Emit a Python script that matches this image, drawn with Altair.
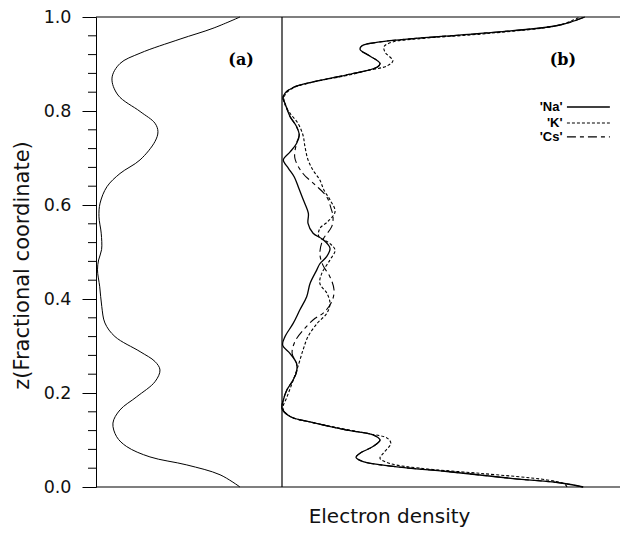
import altair as alt
import pandas as pd

# ---------------- data ----------------
Z_MAJOR = [0.0, 0.2, 0.4, 0.6, 0.8, 1.0]
Z_MINOR = [0.04, 0.08, 0.12, 0.16, 0.24, 0.28, 0.32, 0.36, 0.44, 0.48,
           0.52, 0.56, 0.64, 0.68, 0.72, 0.76, 0.84, 0.88, 0.92, 0.96]

# panel (a): framework electron density
a_z = [1.0, 0.976, 0.953, 0.923, 0.901, 0.870, 0.834, 0.799, 0.774, 0.756,
       0.735, 0.696, 0.667, 0.639, 0.604, 0.575, 0.540, 0.505, 0.483, 0.462,
       0.426, 0.384, 0.349, 0.320, 0.288, 0.267, 0.249, 0.224, 0.192, 0.164,
       0.136, 0.107, 0.086, 0.064, 0.047, 0.026, 0.0]
a_rho = [0.774, 0.629, 0.452, 0.237, 0.129, 0.086, 0.118, 0.237, 0.317, 0.333,
         0.317, 0.237, 0.129, 0.059, 0.022, 0.016, 0.028, 0.030, 0.014, 0.008,
         0.020, 0.031, 0.048, 0.102, 0.237, 0.317, 0.344, 0.317, 0.219, 0.129,
         0.091, 0.111, 0.165, 0.290, 0.488, 0.667, 0.774]

# panel (b): 'Na'
na_z = [1.0, 0.983, 0.965, 0.954, 0.947, 0.939, 0.931, 0.917, 0.901, 0.893,
        0.877, 0.862, 0.850, 0.838, 0.827, 0.816, 0.788, 0.767, 0.749, 0.731,
        0.713, 0.696, 0.678, 0.660, 0.639, 0.611, 0.582, 0.561, 0.540, 0.526,
        0.508, 0.490, 0.475, 0.462, 0.433, 0.405, 0.377, 0.348, 0.320, 0.302,
        0.284, 0.263, 0.245, 0.228, 0.206, 0.185, 0.167, 0.150, 0.137, 0.121,
        0.111, 0.100, 0.086, 0.072, 0.063, 0.054, 0.043, 0.033, 0.018, 0.008, 0.0]
na_rho = [0.896, 0.822, 0.586, 0.388, 0.290, 0.237, 0.231, 0.260, 0.290, 0.281,
          0.192, 0.092, 0.033, 0.009, 0.003, 0.009, 0.024, 0.043, 0.051, 0.043,
          0.024, 0.004, 0.019, 0.036, 0.048, 0.063, 0.078, 0.077, 0.092, 0.122,
          0.142, 0.132, 0.112, 0.103, 0.083, 0.073, 0.053, 0.033, 0.009, 0.002,
          0.024, 0.043, 0.043, 0.033, 0.014, 0.004, 0.000, 0.024, 0.092, 0.192,
          0.269, 0.290, 0.269, 0.231, 0.219, 0.240, 0.340, 0.488, 0.683, 0.831, 0.891]

# panel (b): 'K'
k_z = [1.0, 0.983, 0.965, 0.954, 0.947, 0.937, 0.925, 0.907, 0.896, 0.886,
       0.877, 0.862, 0.850, 0.838, 0.827, 0.813, 0.795, 0.774, 0.749, 0.724,
       0.696, 0.674, 0.653, 0.632, 0.611, 0.586, 0.565, 0.550, 0.533, 0.518,
       0.504, 0.483, 0.455, 0.433, 0.412, 0.391, 0.370, 0.348, 0.320, 0.291,
       0.256, 0.221, 0.192, 0.167, 0.150, 0.137, 0.121, 0.113, 0.104, 0.093,
       0.072, 0.061, 0.050, 0.040, 0.029, 0.015, 0.006, 0.0]
k_rho = [0.882, 0.822, 0.609, 0.408, 0.328, 0.302, 0.305, 0.328, 0.311, 0.251,
         0.201, 0.095, 0.036, 0.012, 0.006, 0.009, 0.024, 0.047, 0.062, 0.068,
         0.077, 0.092, 0.112, 0.124, 0.142, 0.157, 0.136, 0.112, 0.109, 0.142,
         0.157, 0.142, 0.118, 0.112, 0.133, 0.142, 0.133, 0.104, 0.077, 0.062,
         0.047, 0.030, 0.015, 0.003, 0.024, 0.092, 0.201, 0.260, 0.311, 0.322,
         0.300, 0.290, 0.320, 0.408, 0.586, 0.784, 0.837, 0.843]

# panel (b): 'Cs'
cs_z = [1.0, 0.983, 0.965, 0.954, 0.947, 0.939, 0.931, 0.917, 0.901, 0.893,
        0.877, 0.862, 0.850, 0.838, 0.827, 0.816, 0.788, 0.767, 0.749, 0.731,
        0.700, 0.667, 0.643, 0.618, 0.593, 0.575, 0.554, 0.526, 0.497, 0.472,
        0.447, 0.419, 0.394, 0.370, 0.359, 0.338, 0.309, 0.284, 0.263, 0.245,
        0.228, 0.206, 0.185, 0.167, 0.150, 0.137, 0.121, 0.111, 0.100, 0.086,
        0.072, 0.063, 0.054, 0.043, 0.033, 0.018, 0.008, 0.0]
cs_rho = [0.896, 0.822, 0.586, 0.388, 0.290, 0.237, 0.231, 0.260, 0.290, 0.281,
          0.192, 0.092, 0.033, 0.009, 0.003, 0.009, 0.024, 0.043, 0.051, 0.043,
          0.038, 0.062, 0.098, 0.132, 0.145, 0.151, 0.147, 0.121, 0.112, 0.121,
          0.142, 0.154, 0.147, 0.122, 0.098, 0.068, 0.038, 0.030, 0.043, 0.043,
          0.033, 0.014, 0.004, 0.000, 0.024, 0.092, 0.192, 0.269, 0.290, 0.269,
          0.231, 0.219, 0.240, 0.340, 0.488, 0.683, 0.831, 0.891]

SERIES = ["'Na'", "'K'", "'Cs'"]
LEGEND_Z = [0.8085, 0.7745, 0.745]
PANEL_LABELS = ["(a)", "(b)"]

# ---------------- styling ----------------
FONT = "DejaVu Sans"
INK = "#111111"
W_A, W_TOTAL, H = 186, 524, 470

yscale = alt.Scale(domain=[0, 1], nice=False, zero=False)
yaxis = alt.Axis(values=Z_MAJOR, format=".1f", tickSize=14, tickColor="black",
                 tickWidth=1, domainColor="black", domainWidth=1, grid=False,
                 labelFont=FONT, labelFontSize=17.5, labelColor=INK, labelPadding=11,
                 titleFont=FONT, titleFontSize=21, titleFontWeight="normal",
                 titleColor=INK, titleX=-74, titleY=248, titleAngle=270,
                 titleBaseline="middle", titleAlign="center")
YT = "z(Fractional coordinate)"


def Y():
    return alt.Y("z:Q", scale=yscale, axis=yaxis, title=YT)


xa = alt.X("v:Q", scale=alt.Scale(domain=[0, 1], range=[0, W_A], nice=False, zero=False),
           axis=None)
xb_axis = alt.Axis(title="Electron density", labels=False, ticks=False, domain=False,
                   grid=False, titleFont=FONT, titleFontSize=20, titleFontWeight="normal",
                   titleColor=INK, titleX=293, titleY=35, titleAlign="center",
                   titleBaseline="alphabetic")
xb = alt.X("v:Q", scale=alt.Scale(domain=[0, 1], range=[W_A, W_TOTAL], nice=False, zero=False),
           axis=xb_axis)

# ---------------- panel (a) ----------------
df_a = pd.DataFrame({"z": a_z, "v": a_rho})
a_line = alt.Chart(df_a).mark_line(color="black", strokeWidth=1.0,
                                   interpolate="catmull-rom").encode(
    x=xa, y=Y(), order=alt.Order("z:Q"))

frame = alt.Chart(pd.DataFrame({"z": [0.0, 1.0]})).mark_rule(
    color="black", strokeWidth=1.2).encode(y=Y())

minor = alt.Chart(pd.DataFrame({"z": Z_MINOR})).mark_rule(
    color="black", strokeWidth=1).encode(y=Y(), x=alt.value(-8), x2=alt.value(0))

a_lab = alt.Chart(pd.DataFrame({"z": [0.9085], "v": [0.78], "t": [PANEL_LABELS[0]]})).mark_text(
    font="DejaVu Serif", fontWeight="bold", fontSize=16, color="black",
    align="center", baseline="middle").encode(x=xa, y=Y(), text="t:N")

left = alt.layer(frame, minor, a_line, a_lab)

# ---------------- panel (b) ----------------
styles = {
    "'Na'": dict(strokeWidth=1.3),
    "'K'": dict(strokeWidth=1.1, strokeDash=[3, 2]),
    "'Cs'": dict(strokeWidth=1.1, strokeDash=[9, 4, 4, 4]),
}
datasets = {
    "'Na'": (na_z, na_rho),
    "'K'": (k_z, k_rho),
    "'Cs'": (cs_z, cs_rho),
}

b_layers = []
divider = alt.Chart(pd.DataFrame({"v": [0.0]})).mark_rule(
    color="black", strokeWidth=1.2).encode(x=xb)
b_layers.append(divider)

for name in ["'K'", "'Cs'", "'Na'"]:
    zs, rs = datasets[name]
    df = pd.DataFrame({"z": zs, "v": rs})
    b_layers.append(alt.Chart(df).mark_line(color="black", interpolate="catmull-rom",
                                            **styles[name]).encode(
        x=xb, y=Y(), order=alt.Order("z:Q")))

leg_df = pd.DataFrame({"t": SERIES, "z": LEGEND_Z, "v": [0.830] * 3})
b_layers.append(alt.Chart(leg_df).mark_text(
    font="Liberation Sans", fontWeight="bold", fontSize=13, color="black",
    align="right", baseline="middle").encode(x=xb, y=Y(), text="t:N"))
for i, name in enumerate(SERIES):
    seg = pd.DataFrame({"z": [LEGEND_Z[i]], "v": [0.843], "v2": [0.970]})
    b_layers.append(alt.Chart(seg).mark_rule(color="black", **styles[name]).encode(
        x=xb, x2="v2:Q", y=Y()))

b_lab = alt.Chart(pd.DataFrame({"z": [0.9085], "v": [0.831], "t": [PANEL_LABELS[1]]})).mark_text(
    font="DejaVu Serif", fontWeight="bold", fontSize=16, color="black",
    align="center", baseline="middle").encode(x=xb, y=Y(), text="t:N")
b_layers.append(b_lab)

right = alt.layer(*b_layers)

chart = alt.layer(left, right).resolve_scale(x="independent").properties(
    width=W_TOTAL, height=H,
    autosize=alt.AutoSizeParams(type="none"),
    padding={"left": 88, "top": 9, "right": 5, "bottom": 40},
    background="white",
).configure_view(stroke=None)

chart.save("out.html", embed_options={"renderer": "svg", "actions": False})
